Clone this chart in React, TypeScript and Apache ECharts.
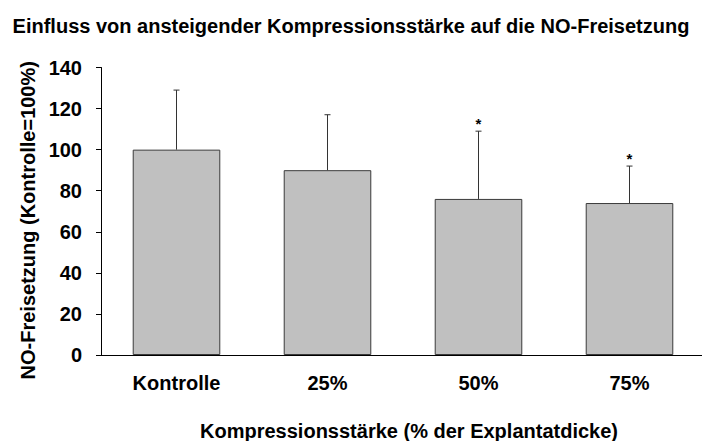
import React, { useEffect, useRef } from "react";
import * as echarts from "echarts";

const categories = ["Kontrolle", "25%", "50%", "75%"];
const means = [100, 90, 76, 74];
const errors = [29, 27, 33, 18];
const significant = [false, false, true, true];
const yTicks = { min: 0, max: 140, interval: 20 };

const FONT = "'Liberation Sans', Arial, sans-serif";

export default function App() {
  const ref = useRef<HTMLDivElement>(null);
  useEffect(() => {
    if (!ref.current) return;
    const chart = echarts.init(ref.current, undefined, { renderer: "svg" });
    const errData = categories.map((c, i) => [i, means[i], means[i] + errors[i], significant[i] ? 1 : 0]);
    chart.setOption({
      animation: false,
      backgroundColor: "#ffffff",
      title: {
        text: "Einfluss von ansteigender Kompressionsstärke auf die NO-Freisetzung",
        left: "center",
        top: 11,
        textStyle: { fontFamily: FONT, fontWeight: "bold", fontSize: 20, color: "#000" },
      },
      grid: { left: 101, top: 67.5, height: 287.5, width: 604, outerBoundsMode: "none", containLabel: false },
      xAxis: {
        type: "category",
        data: categories,
        boundaryGap: true,
        name: "Kompressionsstärke (% der Explantatdicke)",
        nameLocation: "middle",
        nameGap: 66,
        nameTextStyle: { fontFamily: FONT, fontWeight: "bold", fontSize: 20, color: "#000", padding: [0, 0, 0, 12] },
        axisLine: { lineStyle: { color: "#000", width: 1 } },
        axisTick: { alignWithLabel: false, length: 5, lineStyle: { color: "#000" } },
        axisLabel: { fontFamily: FONT, fontWeight: "bold", fontSize: 20, color: "#000", margin: 18 },
      },
      yAxis: {
        type: "value",
        min: yTicks.min,
        max: yTicks.max,
        interval: yTicks.interval,
        name: "NO-Freisetzung (Kontrolle=100%)",
        nameLocation: "middle",
        nameGap: 61,
        nameTextStyle: { fontFamily: FONT, fontWeight: "bold", fontSize: 20, color: "#000", padding: [0, 18, 0, 0] },
        axisLine: { show: true, lineStyle: { color: "#000", width: 1 } },
        axisTick: { show: true, length: 5, lineStyle: { color: "#000" } },
        splitLine: { show: false },
        axisLabel: { fontFamily: FONT, fontWeight: "bold", fontSize: 20, color: "#000", margin: 19 },
      },
      series: [
        {
          type: "bar",
          data: means,
          barWidth: "58%",
          itemStyle: { color: "#c0c0c0", borderColor: "#3a3a3a", borderWidth: 1 },
        },
        {
          type: "custom",
          data: errData,
          z: 10,
          renderItem: (params: any, api: any) => {
            const x = api.value(0);
            const lo = api.coord([x, api.value(1)]);
            const hi = api.coord([x, api.value(2)]);
            const children: any[] = [
              { type: "line", shape: { x1: lo[0], y1: lo[1], x2: hi[0], y2: hi[1] }, style: { stroke: "#333", lineWidth: 1 } },
              { type: "line", shape: { x1: hi[0] - 3, y1: hi[1], x2: hi[0] + 3, y2: hi[1] }, style: { stroke: "#333", lineWidth: 1 } },
            ];
            if (api.value(3) === 1) {
              children.push({
                type: "text",
                style: {
                  text: "*",
                  x: hi[0],
                  y: hi[1] - 8,
                  align: "center",
                  verticalAlign: "middle",
                  fontFamily: FONT,
                  fontWeight: "bold",
                  fontSize: 15,
                  fill: "#000",
                },
              });
            }
            return { type: "group", children };
          },
        },
      ],
    });
    return () => chart.dispose();
  }, []);
  return <div ref={ref} style={{ width: 702, height: 441, position: "absolute", left: 0, top: 0 }} />;
}
